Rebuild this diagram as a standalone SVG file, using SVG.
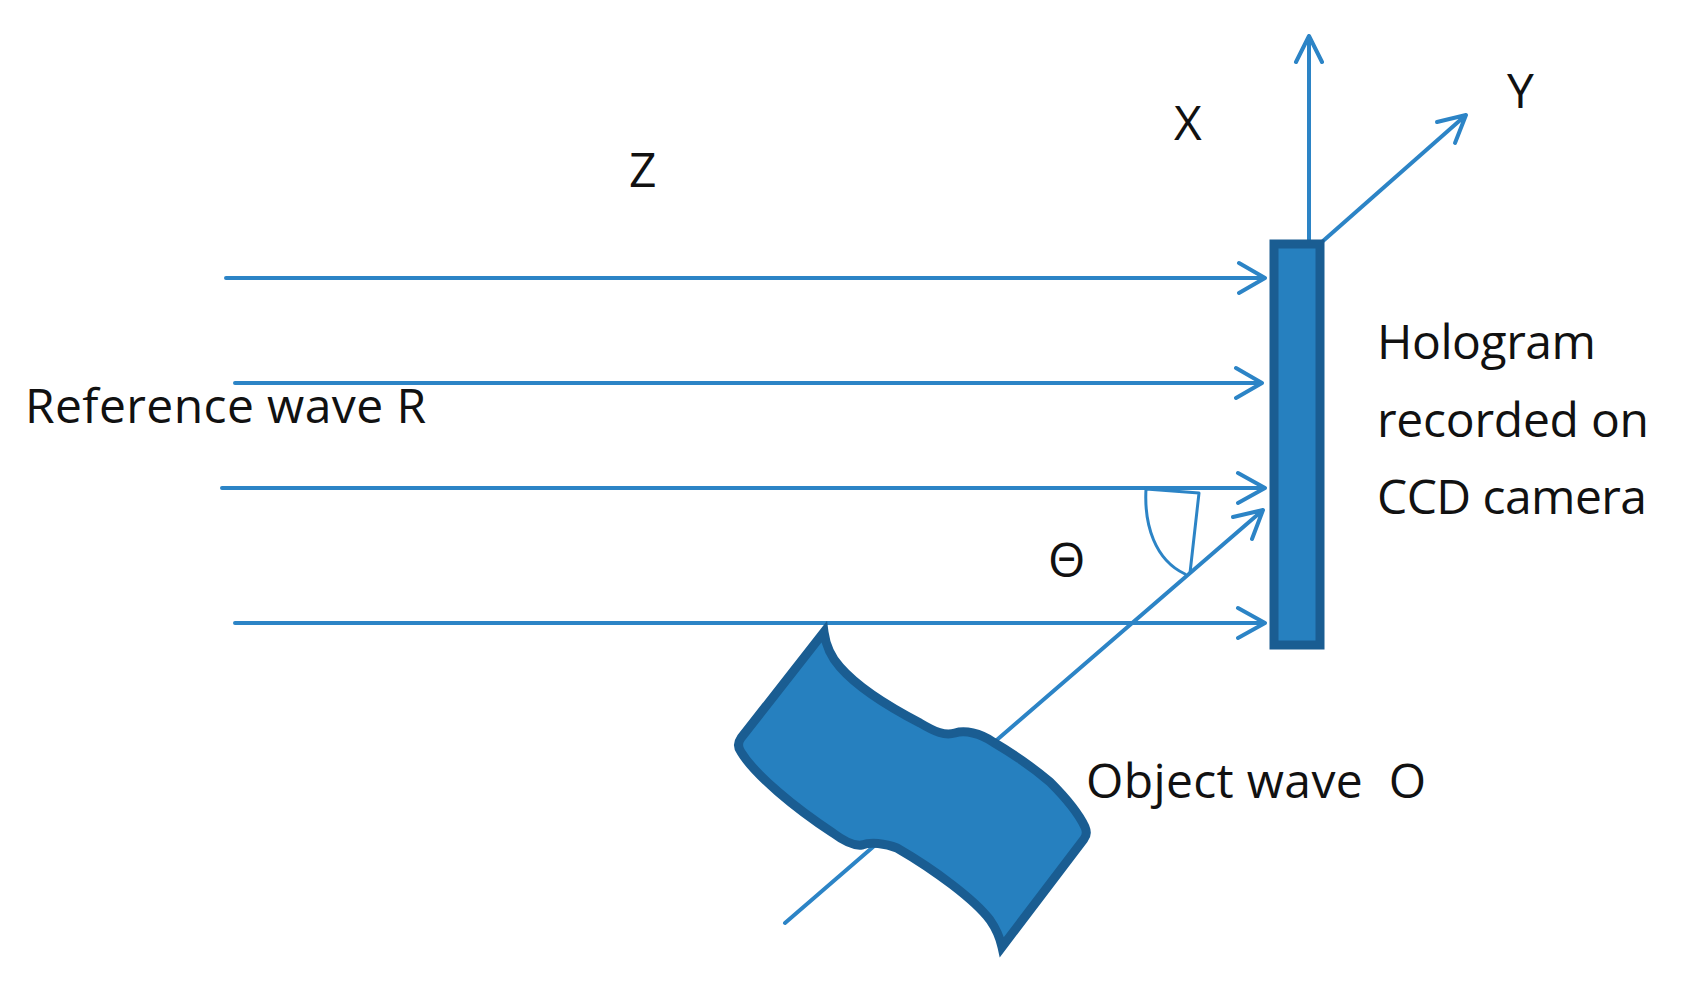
<svg xmlns="http://www.w3.org/2000/svg" width="1688" height="997" viewBox="0 0 1688 997">
<style>
.t{font-family:"Open Sans","Noto Sans","Liberation Sans",sans-serif;font-size:48px;fill:#111}
.c{fill:none;stroke:#2c84c6;stroke-width:4;stroke-linecap:round;stroke-linejoin:round}
.thin{stroke-width:3}
.s{fill:#2680bf;stroke:#1a5d92;stroke-width:9;stroke-linejoin:miter;stroke-miterlimit:12}
</style>
<rect width="1688" height="997" fill="#fff"/>
<g id="connectors">
<path class="c" d="M226 278H1264M1239 263L1265 278L1239 293"/>
<path class="c" d="M235 383H1261M1236 368L1262 383L1236 398"/>
<path class="c" d="M222 488H1264M1238 473L1265 488L1238 503"/>
<path class="c" d="M235 623H1264M1238 608L1265 623L1238 638"/>
<path class="c" d="M785 923L1263 510M1233 517L1263 510L1252 539"/>
<path class="c" d="M1309 265V36M1296 62L1309 36L1322 62"/>
<path class="c" d="M1323 241L1466 115M1437 122L1466 115L1455 143"/>
<path class="c thin" d="M1146 489C1144 525 1155 560 1185 574M1146 489L1199 493L1190 573"/>
</g>
<g id="hologram"><rect class="s" x="1274" y="244" width="46" height="401"/></g>
<g id="object"><path class="s" d="M824 632L741 738Q736 745 741 752C755 775 795 808 833 833C845 842 855 846 862 845C870 842 885 843 897 848C935 870 975 900 990 920C997 930 1000 938 1002 947L1084 839Q1088 834 1085 827C1078 812 1060 792 1050 782C1030 765 1010 752 993 742C980 733 965 730 955 733C945 736 935 732 920 723C895 710 860 690 840 667C831 657 826 647 824 632Z"/></g>
<g id="labels">
<text class="t" x="629" y="187">Z</text>
<text class="t" x="1174" y="140">X</text>
<text class="t" x="1507" y="108">Y</text>
<text class="t" x="25" y="423" textLength="401">Reference wave R</text>
<text class="t" x="1377" y="359" textLength="219">Hologram</text>
<text class="t" x="1377" y="437" textLength="272">recorded on</text>
<text class="t" x="1377" y="514" textLength="270">CCD camera</text>
<text class="t" x="1048" y="577">Θ</text>
<text class="t" x="1086" y="798" xml:space="preserve" textLength="340">Object wave  O</text>
</g>
</svg>
